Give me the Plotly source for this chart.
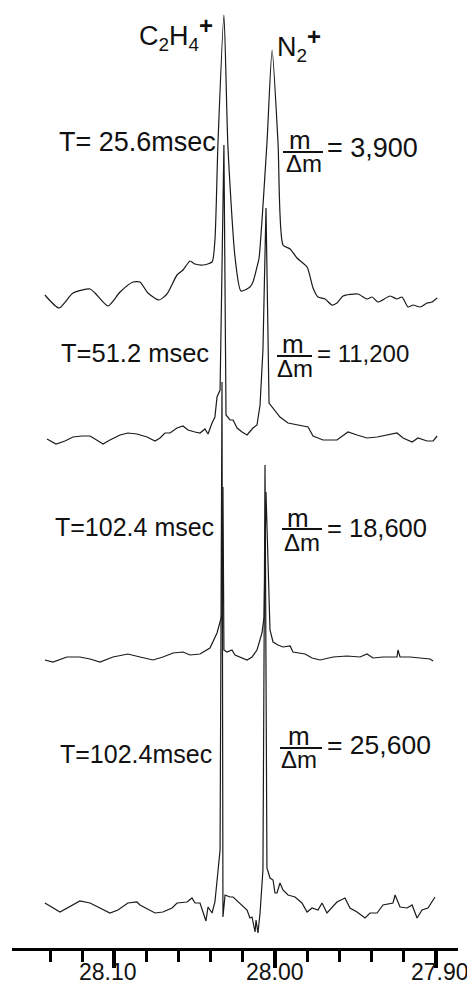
import plotly.graph_objects as go

# ---------------- data (m/z in u, intensity in arbitrary units relative to each trace baseline) -------------
mass_1 = [28.1433, 28.1345, 28.1258, 28.1152, 28.1121, 28.1040, 28.0965, 28.0884, 28.0841, 28.0791,
          28.0722, 28.0673, 28.0610, 28.0573, 28.0529, 28.0498, 28.0448, 28.0392, 28.0374, 28.0355,
          28.0318, 28.0293, 28.0249, 28.0212, 28.0156, 28.0137, 28.0106, 28.0099, 28.0050, 28.0018,
          27.9981, 27.9950, 27.9906, 27.9863, 27.9800, 27.9763, 27.9732, 27.9688, 27.9645, 27.9614,
          27.9576, 27.9483, 27.9427, 27.9395, 27.9358, 27.9283, 27.9240, 27.9209, 27.9171, 27.9140,
          27.9096, 27.9053, 27.9022, 27.8990]
signal_1 = [1, -12, 3, 7, 3, -10, 4, 14, 14, 3,
            -4, 2, 21, 26, 35, 32, 31, 34, 56, 153,
            281, 149, 39, 5, 9, 14, 33, 38, 153, 246,
            153, 51, 47, 38, 29, 8, -1, -3, -9, -7,
            0, 2, -3, -1, -6, 0, -3, -1, -11, -9,
            -11, -7, -6, -2]

mass_2 = [28.1420, 28.1364, 28.1308, 28.1258, 28.1202, 28.1152, 28.1121, 28.1071, 28.1028, 28.0965,
          28.0916, 28.0860, 28.0797, 28.0747, 28.0716, 28.0685, 28.0654, 28.0610, 28.0573, 28.0542,
          28.0498, 28.0467, 28.0436, 28.0417, 28.0392, 28.0374, 28.0361, 28.0342, 28.0318, 28.0305,
          28.0280, 28.0261, 28.0236, 28.0205, 28.0174, 28.0137, 28.0112, 28.0093, 28.0075, 28.0056,
          28.0037, 28.0018, 27.9969, 27.9919, 27.9844, 27.9794, 27.9763, 27.9701, 27.9614, 27.9545,
          27.9489, 27.9427, 27.9364, 27.9302, 27.9240, 27.9202, 27.9146, 27.9109, 27.9053, 27.9015,
          27.8990]
signal_2 = [-2, -7, -4, 0, 1, 1, -2, -7, -3, 2,
            4, 3, 0, -4, -1, 4, 4, 9, 11, 7,
            5, 4, 8, 3, 14, 20, 40, 47, 292, 22,
            17, 17, 9, 5, 2, 9, 12, 32, 87, 229,
            34, 30, 20, 14, 12, 10, 1, -3, -3, 5,
            2, -1, 0, 2, 4, -1, -5, -1, -4, -4,
            1]

peak3_c2h4 = 170
peak3_n2 = 165
mass_3 = [28.1433, 28.1383, 28.1296, 28.1215, 28.1152, 28.1090, 28.1009, 28.0916, 28.0841, 28.0760,
          28.0698, 28.0635, 28.0573, 28.0529, 28.0467, 28.0405, 28.0361, 28.0342, 28.0330, 28.0324,
          28.0318, 28.0299, 28.0268, 28.0249, 28.0218, 28.0174, 28.0143, 28.0112, 28.0081, 28.0068,
          28.0056, 28.0031, 28.0012, 27.9981, 27.9950, 27.9906, 27.9888, 27.9844, 27.9813, 27.9769,
          27.9719, 27.9638, 27.9551, 27.9470, 27.9427, 27.9389, 27.9327, 27.9240, 27.9234, 27.9221,
          27.9159, 27.9096, 27.9034, 27.9015]
signal_3 = [-3, -5, 0, 0, -2, -5, 0, 3, 0, -3,
            0, 4, 5, 2, 3, 9, 24, 34, 42, peak3_c2h4,
            7, 5, 7, 2, 0, -3, 0, 7, 24, 40,
            peak3_n2, 27, 15, 12, 10, 11, 5, 4, 3, -1,
            -3, 0, 1, 0, 3, -1, 0, 0, 7, 0,
            0, -1, -2, -4]

peak4_c2h4 = 523
peak4_n2 = 440
mass_4 = [28.1433, 28.1339, 28.1215, 28.1152, 28.1028, 28.0978, 28.0916, 28.0860, 28.0841, 28.0778,
          28.0747, 28.0698, 28.0641, 28.0610, 28.0548, 28.0517, 28.0498, 28.0467, 28.0430, 28.0417,
          28.0392, 28.0374, 28.0355, 28.0342, 28.0330, 28.0324, 28.0311, 28.0280, 28.0261, 28.0218,
          28.0174, 28.0156, 28.0143, 28.0124, 28.0118, 28.0106, 28.0093, 28.0075, 28.0062, 28.0050,
          28.0031, 28.0012, 28.0000, 27.9987, 27.9969, 27.9950, 27.9919, 27.9875, 27.9832, 27.9800,
          27.9769, 27.9732, 27.9707, 27.9676, 27.9645, 27.9614, 27.9564, 27.9533, 27.9489, 27.9439,
          27.9408, 27.9364, 27.9327, 27.9265, 27.9252, 27.9221, 27.9177, 27.9146, 27.9115, 27.9084,
          27.9047, 27.9022, 27.9003]
signal_4 = [2, -7, 4, 2, -8, -5, 2, 3, 0, -5,
            -8, -7, -3, 2, 3, 7, 2, 2, -16, -2,
            -8, 3, 32, 55, peak4_c2h4, -12, 10, 8, 8, 2,
            -5, -13, -12, -27, -15, -28, -8, 35, peak4_n2, 37,
            27, 25, 12, 12, 22, 15, 10, 8, 2, -7,
            -3, -5, 2, -8, -2, 3, 7, -3, -7, -13,
            -8, -8, 0, 2, 10, -2, -3, 0, -13, -5,
            -3, 3, 8]

offsets = [652, 511, 291, 43]            # baseline of each stacked spectrum
time_labels = ["T= 25.6msec", "T=51.2 msec", "T=102.4 msec", "T=102.4msec"]
resolution_labels = ["= 3,900", "= 11,200", "= 18,600", "= 25,600"]

major_ticks = [28.10, 28.00, 27.90]
major_labels = ["28.10", "28.00", "27.90"]
minor_ticks = [28.14, 28.12, 28.08, 28.06, 28.04, 28.02, 27.98, 27.96, 27.94, 27.92]

# ---------------- figure -------------
# the page body adds an 8 px margin, so the figure is made 8 px smaller and
# layout positions below are given in window pixels, shifted by BODY.
BODY = 8
W, H = 475 - BODY, 991 - BODY
AXIS_LEFT, AXIS_RIGHT, AXIS_Y = 12, 458, 948      # window pixels
ML = AXIS_LEFT - BODY
MR = W - (AXIS_RIGHT - BODY)
MT = 0
MB = H - (AXIS_Y - BODY)
PW, PH = W - ML - MR, H - MT - MB
FONT = "Liberation Sans, Arial, sans-serif"

fig = go.Figure()
series = [(mass_1, signal_1), (mass_2, signal_2), (mass_3, signal_3), (mass_4, signal_4)]
for i, (m, s) in enumerate(series):
    fig.add_trace(go.Scatter(
        x=m, y=[v + offsets[i] for v in s], mode="lines",
        line=dict(color="#1a1a1a", width=1.2, shape="spline" if i == 0 else "linear",
                  smoothing=0.6 if i == 0 else 0),
        hoverinfo="skip", showlegend=False))


def px(xp):
    return (xp - AXIS_LEFT) / PW


def py(yp):
    return (AXIS_Y - yp) / PH


annotations = []
shapes = []


def text(s, xp, yp, size, xanchor="left"):
    annotations.append(dict(text=s, x=px(xp), y=py(yp), xref="paper", yref="paper",
                            xanchor=xanchor, yanchor="middle", showarrow=False,
                            font=dict(family=FONT, size=size, color="#111")))


PLUS = "<sup><span style='font-size:24px'><b>+</b></span></sup>"
# ion labels
text("C<sub>2</sub>H<sub>4</sub>" + PLUS, 137, 34, 27)
text("N<sub>2</sub>" + PLUS, 275, 44, 27)

# time labels
t_pos = [(57, 142, 27), (59, 353, 25.5), (53, 527, 25), (58, 754, 25)]
for lab, (xp, yp, sz) in zip(time_labels, t_pos):
    text(lab, xp, yp, sz)

# resolution fractions
frac = [  # num_center_x, num_y, bar_x0, bar_x1, bar_y, den_center_x, den_y, eq_x, eq_y, eq_size
    (300, 140, 283, 323, 152, 304, 163, 325, 148, 27),
    (293, 344, 277, 312, 356, 295, 368, 315, 353, 24),
    (298, 518, 282, 322, 529, 302, 542, 325, 528, 25.5),
    (299, 736, 280, 322, 748, 299, 759, 325, 745, 26.5),
]
for lab, (nx, ny, bx0, bx1, by, dx, dy, ex, ey, es) in zip(resolution_labels, frac):
    text("m", nx, ny, 26, "center")
    text("Δm", dx, dy, 24, "center")
    text(lab, ex, ey, es)
    shapes.append(dict(type="line", xref="paper", yref="paper",
                       x0=px(bx0), x1=px(bx1), y0=py(by), y1=py(by),
                       line=dict(color="#111", width=2)))

# tick labels as annotations (sitting close under the axis, as in the original)
for v, lab, dx in zip(major_ticks, major_labels, [-6, 0, 4]):
    annotations.append(dict(text=lab, x=v, y=py(972), xref="x", yref="paper",
                            xanchor="center", yanchor="middle", xshift=dx, showarrow=False,
                            font=dict(family=FONT, size=23, color="#111")))

fig.update_layout(
    width=W, height=H,
    margin=dict(l=ML, r=MR, t=MT, b=MB),
    paper_bgcolor="white", plot_bgcolor="white",
    annotations=annotations, shapes=shapes,
    xaxis=dict(range=[28.1638, 27.8860], showgrid=False, zeroline=False,
               showline=True, linecolor="black", linewidth=3, automargin=False,
               tickmode="array", tickvals=major_ticks, ticktext=major_labels,
               showticklabels=False,
               ticks="outside", ticklen=17, tickwidth=4, tickcolor="black",
               minor=dict(tickmode="array", tickvals=minor_ticks, ticks="outside",
                          ticklen=11, tickwidth=3, tickcolor="black")),
    yaxis=dict(range=[0, PH], visible=False, showgrid=False, zeroline=False),
)

fig.write_html("out.html")
